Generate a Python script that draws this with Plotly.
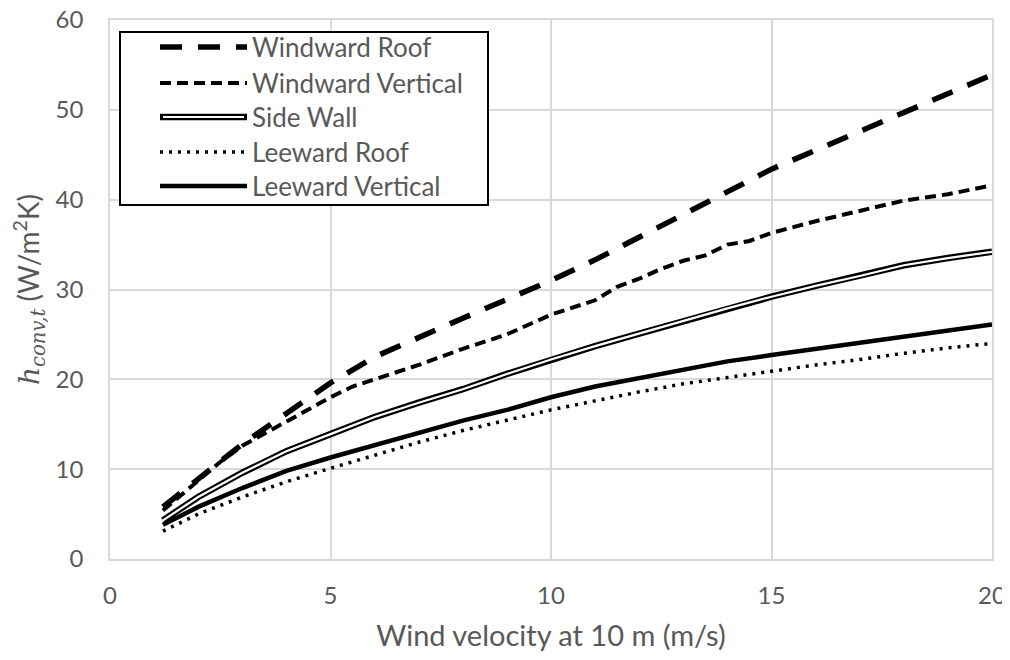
import plotly.graph_objects as go

# ---- data ----
x_main = [1.2, 2, 3, 4, 5, 6, 7, 8, 9, 10, 11, 12, 13, 14, 15, 16, 17, 18, 19, 20]
windward_roof = [5.8, 8.9, 12.8, 16.2, 19.6, 22.5, 24.7, 26.8, 28.9, 31.0,
                 33.3, 35.8, 38.3, 40.9, 43.4, 45.5, 47.6, 49.6, 51.8, 53.9]

x_wv = [1.2, 2, 2.5, 3, 4, 5, 5.5, 6, 7, 8, 9, 10, 11, 11.5, 12, 12.5, 13, 13.5,
        14, 14.5, 15, 16, 17, 18, 19, 20]
windward_vertical = [5.4, 8.8, 10.8, 12.6, 15.3, 18.0, 19.2, 20.0, 21.6, 23.4, 25.0,
                     27.2, 28.8, 30.3, 31.2, 32.3, 33.2, 33.8, 35.0, 35.4, 36.3,
                     37.6, 38.7, 39.9, 40.6, 41.6]

side_wall = [4.3, 6.9, 9.6, 12.0, 13.9, 15.8, 17.4, 18.9, 20.6, 22.2,
             23.7, 25.1, 26.5, 27.9, 29.2, 30.4, 31.5, 32.7, 33.5, 34.2]
leeward_roof = [3.1, 5.0, 6.9, 8.6, 10.1, 11.6, 13.0, 14.3, 15.5, 16.6,
                17.6, 18.6, 19.5, 20.2, 20.9, 21.6, 22.2, 22.9, 23.5, 24.0]
leeward_vertical = [3.8, 5.8, 7.9, 9.8, 11.3, 12.7, 14.0, 15.4, 16.6, 18.0,
                    19.2, 20.1, 21.1, 22.0, 22.7, 23.4, 24.1, 24.7, 25.4, 26.1]

series_names = ["Windward Roof", "Windward Vertical", "Side Wall",
                "Leeward Roof", "Leeward Vertical"]

x_ticks = [0, 5, 10, 15, 20]
y_ticks = [0, 10, 20, 30, 40, 50, 60]

# ---- styles ----
OFF = 8  # page body margin
W, H = 1010 - OFF, 660 - 2 * OFF
ML, MR, MT, MB = 102, 18, 12, 93
PW, PH = W - ML - MR, H - MT - MB
FONT = "Lato, Open Sans, sans-serif"
GREY = "#595959"

styles = {
    "Windward Roof": dict(color="black", width=5.5, dash="22px,16px"),
    "Windward Vertical": dict(color="black", width=4, dash="11px,6px"),
    "Leeward Roof": dict(color="black", width=3.5, dash="3px,6px"),
    "Leeward Vertical": dict(color="black", width=4.5),
}

fig = go.Figure()
fig.add_trace(go.Scatter(x=x_main, y=leeward_roof, mode="lines",
                         line=styles["Leeward Roof"], showlegend=False))
fig.add_trace(go.Scatter(x=x_main, y=leeward_vertical, mode="lines",
                         line=styles["Leeward Vertical"], showlegend=False))
fig.add_trace(go.Scatter(x=x_main, y=side_wall, mode="lines",
                         line=dict(color="black", width=6.5), showlegend=False))
fig.add_trace(go.Scatter(x=x_main, y=side_wall, mode="lines",
                         line=dict(color="white", width=2.2), showlegend=False))
fig.add_trace(go.Scatter(x=x_wv, y=windward_vertical, mode="lines",
                         line=styles["Windward Vertical"], showlegend=False))
fig.add_trace(go.Scatter(x=x_main, y=windward_roof, mode="lines",
                         line=styles["Windward Roof"], showlegend=False))


def px(xp):
    return (xp - OFF - ML) / PW


def py(yp):
    return (H - MB - (yp - OFF)) / PH


# ---- custom legend (double line for Side Wall) ----
shapes = [dict(type="rect", xref="paper", yref="paper",
               x0=px(120), x1=px(488), y0=py(205), y1=py(32),
               line=dict(color="black", width=2), fillcolor="white", layer="above")]
annotations = []
entry_y = [47, 83, 117, 152, 186]
for name, yy in zip(series_names, entry_y):
    if name == "Side Wall":
        shapes.append(dict(type="line", xref="paper", yref="paper",
                           x0=px(160), x1=px(247), y0=py(yy), y1=py(yy),
                           line=dict(color="black", width=6.5), layer="above"))
        shapes.append(dict(type="line", xref="paper", yref="paper",
                           x0=px(163), x1=px(244), y0=py(yy), y1=py(yy),
                           line=dict(color="white", width=2.2), layer="above"))
    else:
        shapes.append(dict(type="line", xref="paper", yref="paper",
                           x0=px(160), x1=px(247), y0=py(yy), y1=py(yy),
                           line=styles[name], layer="above"))
    annotations.append(dict(xref="paper", yref="paper", x=px(250), y=py(yy),
                            text=name, showarrow=False, xanchor="left",
                            yanchor="middle",
                            font=dict(family=FONT, size=26, color=GREY)))

fig.update_layout(
    width=W, height=H,
    margin=dict(l=ML, r=MR, t=MT, b=MB, autoexpand=False),
    paper_bgcolor="white", plot_bgcolor="white",
    showlegend=False,
    shapes=shapes, annotations=annotations,
    font=dict(family=FONT, color=GREY),
)
fig.update_xaxes(range=[0, 20], tickvals=x_ticks, ticks="", showgrid=True,
                 gridcolor="#d9d9d9", gridwidth=1.5, zeroline=False,
                 showline=True, linecolor="#d9d9d9", linewidth=1.5, mirror=True,
                 automargin=False, ticklabeloverflow="allow",
                 tickfont=dict(size=24, color=GREY), ticklabelstandoff=14,
                 title=dict(text="Wind velocity at 10 m (m/s)",
                            font=dict(size=29, color=GREY), standoff=20))
fig.update_yaxes(range=[0, 60], tickvals=y_ticks, ticks="", showgrid=True,
                 gridcolor="#d9d9d9", gridwidth=1.5, zeroline=False,
                 showline=True, linecolor="#d9d9d9", linewidth=1.5, mirror=True,
                 automargin=False, ticklabeloverflow="allow",
                 tickfont=dict(size=24, color=GREY), ticklabelstandoff=20,
                 title=dict(text='<span style="font-family:DejaVu Serif"><i>h</i><sub><i>conv,t</i></sub></span> (W/m<sup>2</sup>K)',
                            font=dict(size=28, color=GREY), standoff=8))

fig.write_html("out.html")
